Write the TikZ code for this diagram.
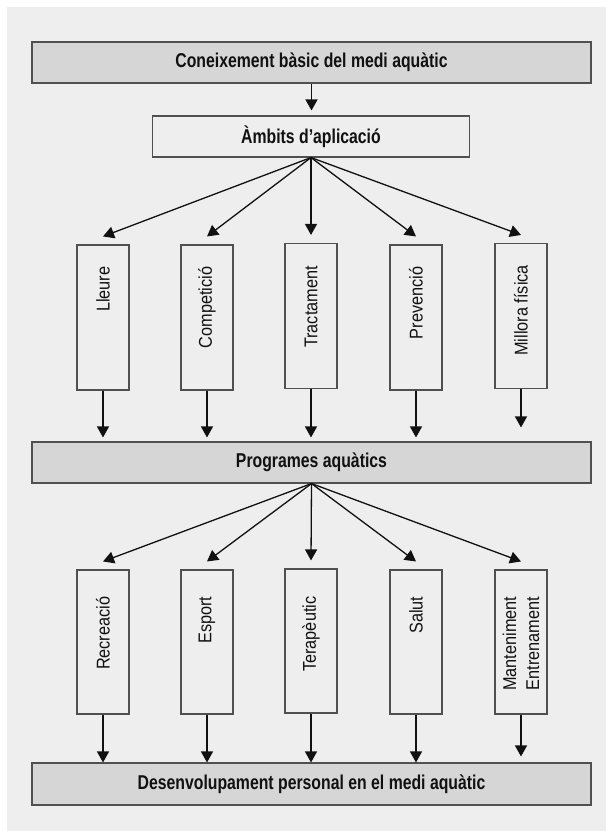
\documentclass[tikz,border=0pt]{standalone}
\usepackage{fontspec}
\setmainfont{Liberation Sans}
\newfontfamily\headfont[FakeStretch=0.79]{Liberation Sans}
\newfontfamily\labelfont[FakeStretch=0.88]{Liberation Sans}
\usetikzlibrary{arrows.meta}

\definecolor{panel}{HTML}{EEEEEE}
\definecolor{bandfill}{HTML}{D6D6D6}
\definecolor{edge}{HTML}{505050}
\definecolor{ink}{HTML}{111111}

\tikzset{
  banner/.style={draw=edge, line width=1.1pt, fill=bandfill, minimum width=559pt,
    minimum height=41pt, inner sep=0pt, text=ink,
    font=\headfont\bfseries\fontsize{20}{23}\selectfont},
  headbox/.style={draw=edge, line width=1.1pt, fill=panel, minimum width=317pt,
    minimum height=41pt, inner sep=0pt, text=ink,
    font=\headfont\bfseries\fontsize{20}{23}\selectfont},
  colbox/.style={draw=edge, line width=1.1pt, fill=panel, minimum width=52pt,
    minimum height=145pt, inner sep=0pt},
  coltext/.style={rotate=90, anchor=east, inner sep=0pt, text=ink, align=center,
    font=\labelfont\fontsize{18.5}{23}\selectfont},
  arr/.style={draw=ink, line width=1.3pt, -{Triangle[width=12pt,length=11pt]}}
}

\begin{document}
\begin{tikzpicture}[x=1pt,y=-1pt]
  % page and grey panel
  \fill[white] (0,0) rectangle (606,831);
  \fill[panel] (7,7) rectangle (606,831);

  % horizontal bands
  \node[banner] (know) at (311.5,62.5) {Coneixement bàsic del medi aquàtic};
  \node[headbox] (scope) at (311,136.5) {Àmbits d’aplicació};
  \node[banner] (prog) at (311.5,462.5) {Programes aquàtics};
  \node[banner, minimum height=42pt] (dev) at (311.5,784) {Desenvolupament personal en el medi aquàtic};

  % first row of columns
  \node[colbox] (c1) at (103,317.5) {};
  \node[colbox] (c2) at (207,317.5) {};
  \node[colbox] (c3) at (311,316) {};
  \node[colbox] (c4) at (416,317.5) {};
  \node[colbox] (c5) at (521,316) {};
  \node[coltext] (t1) at ([yshift=-22pt]c1.north) {Lleure};
  \node[coltext] (t2) at ([yshift=-22pt]c2.north) {Competició};
  \node[coltext] (t3) at ([yshift=-23pt]c3.north) {Tractament};
  \node[coltext] (t4) at ([yshift=-22pt]c4.north) {Prevenció};
  \node[coltext] (t5) at ([yshift=-22pt]c5.north) {Millora física};

  % second row of columns
  \node[colbox, minimum height=144pt] (d1) at (103,642) {};
  \node[colbox, minimum height=144pt] (d2) at (207,642) {};
  \node[colbox, minimum height=144pt] (d3) at (311,641) {};
  \node[colbox, minimum height=144pt] (d4) at (416,642) {};
  \node[colbox, minimum height=144pt] (d5) at (521,642) {};
  \node[coltext] (u1) at ([yshift=-27pt]d1.north) {Recreació};
  \node[coltext] (u2) at ([yshift=-27pt]d2.north) {Esport};
  \node[coltext] (u3) at ([yshift=-28pt]d3.north) {Terapèutic};
  \node[coltext] (u4) at ([yshift=-27pt]d4.north) {Salut};
  \node[coltext] (u5) at ([yshift=-27pt]d5.north) {Manteniment\\Entrenament};

  % connectors
  \draw[arr, shorten >=5pt] (know.south) -- (know.south |- scope.north);

  \foreach \c in {c1,c2,c3,c4,c5}
    \draw[arr] (scope.south) -- ([yshift=8pt]\c.north);
  \foreach \c in {c1,c2,c3,c4}
    \draw[arr] (\c.south) -- ([yshift=4pt]\c.south |- prog.north);
  \draw[arr] (c5.south) -- ([yshift=14pt]c5.south |- prog.north);

  \foreach \c in {d1,d2,d3,d4,d5}
    \draw[arr] (prog.south) -- ([yshift=8pt]\c.north);
  \foreach \c in {d1,d2,d3,d4}
    \draw[arr] (\c.south) -- (\c.south |- dev.north);
  \draw[arr] (d5.south) -- ([yshift=6pt]d5.south |- dev.north);
\end{tikzpicture}
\end{document}
